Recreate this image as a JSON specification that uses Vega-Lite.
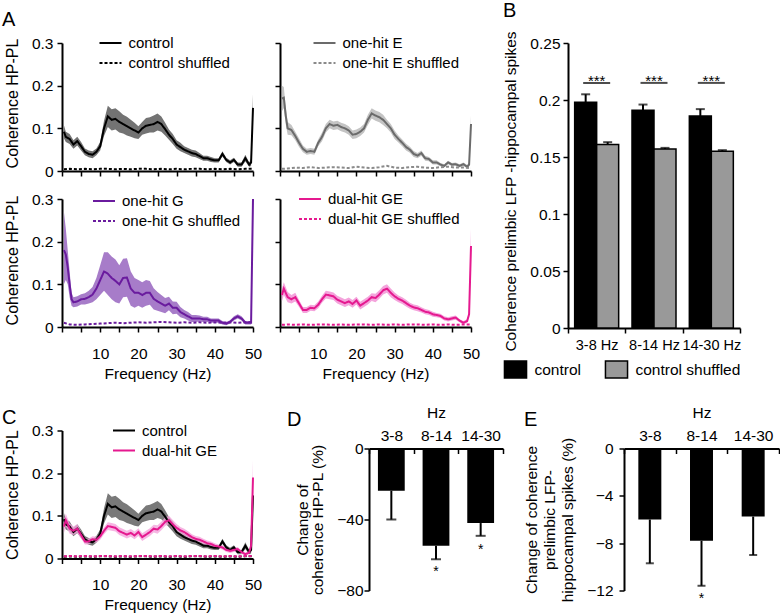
{
"$schema":"https://vega.github.io/schema/vega-lite/v6.json",
"padding":{"left":2,"top":0,"right":0,"bottom":0},
"background":"white",
"config":{
 "font":"Liberation Sans",
 "view":{"stroke":null},
 "axis":{"domainColor":"#000","domainWidth":2,"tickColor":"#000","tickWidth":1.5,"tickSize":5,"labelColor":"#000","labelFontSize":15.5,"titleFontSize":16,"titleFontWeight":"normal","titleColor":"#000","grid":false,"labelFlush":false,"labelOverlap":false},
 "legend":{"labelFontSize":15.5,"labelColor":"#000","padding":0},
 "title":{"fontSize":20,"fontWeight":"normal","anchor":"start","frame":"group","color":"#000","offset":0}
},
"datasets":{
"coh":[
{"g":"control","s":"control","f":0.5,"m":0.092,"lo":0.077,"hi":0.107},
{"g":"control","s":"control","f":1,"m":0.08,"lo":0.068,"hi":0.092},
{"g":"control","s":"control","f":2,"m":0.075,"lo":0.063,"hi":0.087},
{"g":"control","s":"control","f":3,"m":0.062,"lo":0.052,"hi":0.072},
{"g":"control","s":"control","f":4,"m":0.07,"lo":0.06,"hi":0.08},
{"g":"control","s":"control","f":5,"m":0.058,"lo":0.048,"hi":0.068},
{"g":"control","s":"control","f":6,"m":0.045,"lo":0.037,"hi":0.053},
{"g":"control","s":"control","f":7,"m":0.04,"lo":0.032,"hi":0.048},
{"g":"control","s":"control","f":8,"m":0.038,"lo":0.03,"hi":0.046},
{"g":"control","s":"control","f":9,"m":0.045,"lo":0.037,"hi":0.053},
{"g":"control","s":"control","f":10,"m":0.058,"lo":0.048,"hi":0.068},
{"g":"control","s":"control","f":11,"m":0.1,"lo":0.082,"hi":0.118},
{"g":"control","s":"control","f":12,"m":0.128,"lo":0.103,"hi":0.153},
{"g":"control","s":"control","f":13,"m":0.12,"lo":0.095,"hi":0.145},
{"g":"control","s":"control","f":14,"m":0.122,"lo":0.097,"hi":0.147},
{"g":"control","s":"control","f":15,"m":0.115,"lo":0.09,"hi":0.14},
{"g":"control","s":"control","f":16,"m":0.11,"lo":0.088,"hi":0.132},
{"g":"control","s":"control","f":17,"m":0.105,"lo":0.083,"hi":0.127},
{"g":"control","s":"control","f":18,"m":0.1,"lo":0.08,"hi":0.12},
{"g":"control","s":"control","f":19,"m":0.095,"lo":0.077,"hi":0.113},
{"g":"control","s":"control","f":20,"m":0.09,"lo":0.075,"hi":0.105},
{"g":"control","s":"control","f":21,"m":0.1,"lo":0.085,"hi":0.115},
{"g":"control","s":"control","f":22,"m":0.106,"lo":0.088,"hi":0.124},
{"g":"control","s":"control","f":23,"m":0.108,"lo":0.09,"hi":0.126},
{"g":"control","s":"control","f":24,"m":0.11,"lo":0.09,"hi":0.13},
{"g":"control","s":"control","f":25,"m":0.115,"lo":0.095,"hi":0.135},
{"g":"control","s":"control","f":26,"m":0.11,"lo":0.092,"hi":0.128},
{"g":"control","s":"control","f":27,"m":0.098,"lo":0.083,"hi":0.113},
{"g":"control","s":"control","f":28,"m":0.085,"lo":0.073,"hi":0.097},
{"g":"control","s":"control","f":29,"m":0.075,"lo":0.063,"hi":0.087},
{"g":"control","s":"control","f":30,"m":0.062,"lo":0.052,"hi":0.072},
{"g":"control","s":"control","f":31,"m":0.056,"lo":0.046,"hi":0.066},
{"g":"control","s":"control","f":32,"m":0.05,"lo":0.042,"hi":0.058},
{"g":"control","s":"control","f":33,"m":0.046,"lo":0.038,"hi":0.054},
{"g":"control","s":"control","f":34,"m":0.042,"lo":0.034,"hi":0.05},
{"g":"control","s":"control","f":35,"m":0.04,"lo":0.032,"hi":0.048},
{"g":"control","s":"control","f":36,"m":0.035,"lo":0.028,"hi":0.042},
{"g":"control","s":"control","f":37,"m":0.03,"lo":0.024,"hi":0.036},
{"g":"control","s":"control","f":38,"m":0.03,"lo":0.024,"hi":0.036},
{"g":"control","s":"control","f":39,"m":0.027,"lo":0.021,"hi":0.033},
{"g":"control","s":"control","f":40,"m":0.025,"lo":0.02,"hi":0.03},
{"g":"control","s":"control","f":41,"m":0.025,"lo":0.02,"hi":0.03},
{"g":"control","s":"control","f":42,"m":0.04,"lo":0.034,"hi":0.046},
{"g":"control","s":"control","f":43,"m":0.026,"lo":0.021,"hi":0.031},
{"g":"control","s":"control","f":44,"m":0.02,"lo":0.015,"hi":0.025},
{"g":"control","s":"control","f":45,"m":0.026,"lo":0.021,"hi":0.031},
{"g":"control","s":"control","f":46,"m":0.015,"lo":0.01,"hi":0.02},
{"g":"control","s":"control","f":47,"m":0.015,"lo":0.01,"hi":0.02},
{"g":"control","s":"control","f":48,"m":0.03,"lo":0.022,"hi":0.038},
{"g":"control","s":"control","f":49,"m":0.015,"lo":0.01,"hi":0.02},
{"g":"control","s":"control","f":49.5,"m":0.02,"lo":0.012,"hi":0.028},
{"g":"control","s":"control","f":50,"m":0.148,"lo":0.12,"hi":0.18},
{"g":"control","s":"control shuffled","f":0.5,"m":0.004},
{"g":"control","s":"control shuffled","f":2,"m":0.005},
{"g":"control","s":"control shuffled","f":4,"m":0.004},
{"g":"control","s":"control shuffled","f":6,"m":0.005},
{"g":"control","s":"control shuffled","f":8,"m":0.004},
{"g":"control","s":"control shuffled","f":10,"m":0.005},
{"g":"control","s":"control shuffled","f":12,"m":0.005},
{"g":"control","s":"control shuffled","f":14,"m":0.004},
{"g":"control","s":"control shuffled","f":16,"m":0.005},
{"g":"control","s":"control shuffled","f":18,"m":0.004},
{"g":"control","s":"control shuffled","f":20,"m":0.005},
{"g":"control","s":"control shuffled","f":22,"m":0.005},
{"g":"control","s":"control shuffled","f":24,"m":0.004},
{"g":"control","s":"control shuffled","f":26,"m":0.005},
{"g":"control","s":"control shuffled","f":28,"m":0.004},
{"g":"control","s":"control shuffled","f":30,"m":0.005},
{"g":"control","s":"control shuffled","f":32,"m":0.004},
{"g":"control","s":"control shuffled","f":34,"m":0.005},
{"g":"control","s":"control shuffled","f":36,"m":0.005},
{"g":"control","s":"control shuffled","f":38,"m":0.004},
{"g":"control","s":"control shuffled","f":40,"m":0.005},
{"g":"control","s":"control shuffled","f":42,"m":0.004},
{"g":"control","s":"control shuffled","f":44,"m":0.005},
{"g":"control","s":"control shuffled","f":46,"m":0.004},
{"g":"control","s":"control shuffled","f":48,"m":0.005},
{"g":"control","s":"control shuffled","f":50,"m":0.005},
{"g":"one-hit E","s":"one-hit E","f":0.5,"m":0.17,"lo":0.14,"hi":0.2},
{"g":"one-hit E","s":"one-hit E","f":1,"m":0.172,"lo":0.147,"hi":0.197},
{"g":"one-hit E","s":"one-hit E","f":1.5,"m":0.13,"lo":0.11,"hi":0.15},
{"g":"one-hit E","s":"one-hit E","f":2,"m":0.1,"lo":0.085,"hi":0.115},
{"g":"one-hit E","s":"one-hit E","f":3,"m":0.096,"lo":0.084,"hi":0.108},
{"g":"one-hit E","s":"one-hit E","f":4,"m":0.082,"lo":0.072,"hi":0.092},
{"g":"one-hit E","s":"one-hit E","f":5,"m":0.066,"lo":0.056,"hi":0.076},
{"g":"one-hit E","s":"one-hit E","f":6,"m":0.052,"lo":0.044,"hi":0.06},
{"g":"one-hit E","s":"one-hit E","f":7,"m":0.045,"lo":0.038,"hi":0.052},
{"g":"one-hit E","s":"one-hit E","f":8,"m":0.047,"lo":0.04,"hi":0.054},
{"g":"one-hit E","s":"one-hit E","f":9,"m":0.045,"lo":0.038,"hi":0.052},
{"g":"one-hit E","s":"one-hit E","f":10,"m":0.066,"lo":0.058,"hi":0.074},
{"g":"one-hit E","s":"one-hit E","f":11,"m":0.08,"lo":0.07,"hi":0.09},
{"g":"one-hit E","s":"one-hit E","f":12,"m":0.1,"lo":0.09,"hi":0.11},
{"g":"one-hit E","s":"one-hit E","f":13,"m":0.11,"lo":0.1,"hi":0.12},
{"g":"one-hit E","s":"one-hit E","f":14,"m":0.106,"lo":0.096,"hi":0.116},
{"g":"one-hit E","s":"one-hit E","f":15,"m":0.108,"lo":0.098,"hi":0.118},
{"g":"one-hit E","s":"one-hit E","f":16,"m":0.103,"lo":0.093,"hi":0.113},
{"g":"one-hit E","s":"one-hit E","f":17,"m":0.1,"lo":0.09,"hi":0.11},
{"g":"one-hit E","s":"one-hit E","f":18,"m":0.095,"lo":0.085,"hi":0.105},
{"g":"one-hit E","s":"one-hit E","f":19,"m":0.085,"lo":0.075,"hi":0.095},
{"g":"one-hit E","s":"one-hit E","f":20,"m":0.087,"lo":0.077,"hi":0.097},
{"g":"one-hit E","s":"one-hit E","f":21,"m":0.092,"lo":0.082,"hi":0.102},
{"g":"one-hit E","s":"one-hit E","f":22,"m":0.1,"lo":0.09,"hi":0.11},
{"g":"one-hit E","s":"one-hit E","f":23,"m":0.12,"lo":0.108,"hi":0.132},
{"g":"one-hit E","s":"one-hit E","f":24,"m":0.135,"lo":0.123,"hi":0.147},
{"g":"one-hit E","s":"one-hit E","f":25,"m":0.13,"lo":0.118,"hi":0.142},
{"g":"one-hit E","s":"one-hit E","f":26,"m":0.126,"lo":0.114,"hi":0.138},
{"g":"one-hit E","s":"one-hit E","f":27,"m":0.12,"lo":0.108,"hi":0.132},
{"g":"one-hit E","s":"one-hit E","f":28,"m":0.11,"lo":0.1,"hi":0.12},
{"g":"one-hit E","s":"one-hit E","f":29,"m":0.1,"lo":0.09,"hi":0.11},
{"g":"one-hit E","s":"one-hit E","f":30,"m":0.085,"lo":0.075,"hi":0.095},
{"g":"one-hit E","s":"one-hit E","f":31,"m":0.075,"lo":0.067,"hi":0.083},
{"g":"one-hit E","s":"one-hit E","f":32,"m":0.066,"lo":0.058,"hi":0.074},
{"g":"one-hit E","s":"one-hit E","f":33,"m":0.056,"lo":0.048,"hi":0.064},
{"g":"one-hit E","s":"one-hit E","f":34,"m":0.05,"lo":0.043,"hi":0.057},
{"g":"one-hit E","s":"one-hit E","f":35,"m":0.04,"lo":0.033,"hi":0.047},
{"g":"one-hit E","s":"one-hit E","f":36,"m":0.036,"lo":0.03,"hi":0.042},
{"g":"one-hit E","s":"one-hit E","f":37,"m":0.042,"lo":0.036,"hi":0.048},
{"g":"one-hit E","s":"one-hit E","f":38,"m":0.03,"lo":0.024,"hi":0.036},
{"g":"one-hit E","s":"one-hit E","f":39,"m":0.028,"lo":0.023,"hi":0.033},
{"g":"one-hit E","s":"one-hit E","f":40,"m":0.02,"lo":0.015,"hi":0.025},
{"g":"one-hit E","s":"one-hit E","f":41,"m":0.02,"lo":0.015,"hi":0.025},
{"g":"one-hit E","s":"one-hit E","f":42,"m":0.015,"lo":0.011,"hi":0.019},
{"g":"one-hit E","s":"one-hit E","f":43,"m":0.012,"lo":0.008,"hi":0.016},
{"g":"one-hit E","s":"one-hit E","f":44,"m":0.02,"lo":0.016,"hi":0.024},
{"g":"one-hit E","s":"one-hit E","f":45,"m":0.015,"lo":0.011,"hi":0.019},
{"g":"one-hit E","s":"one-hit E","f":46,"m":0.016,"lo":0.012,"hi":0.02},
{"g":"one-hit E","s":"one-hit E","f":47,"m":0.012,"lo":0.008,"hi":0.016},
{"g":"one-hit E","s":"one-hit E","f":48,"m":0.016,"lo":0.012,"hi":0.02},
{"g":"one-hit E","s":"one-hit E","f":49,"m":0.01,"lo":0.006,"hi":0.014},
{"g":"one-hit E","s":"one-hit E","f":49.5,"m":0.015,"lo":0.01,"hi":0.02},
{"g":"one-hit E","s":"one-hit E","f":50,"m":0.11,"lo":0.09,"hi":0.13},
{"g":"one-hit E","s":"one-hit E shuffled","f":0.5,"m":0.005},
{"g":"one-hit E","s":"one-hit E shuffled","f":2,"m":0.006},
{"g":"one-hit E","s":"one-hit E shuffled","f":4,"m":0.008},
{"g":"one-hit E","s":"one-hit E shuffled","f":6,"m":0.007},
{"g":"one-hit E","s":"one-hit E shuffled","f":8,"m":0.009},
{"g":"one-hit E","s":"one-hit E shuffled","f":10,"m":0.007},
{"g":"one-hit E","s":"one-hit E shuffled","f":12,"m":0.008},
{"g":"one-hit E","s":"one-hit E shuffled","f":14,"m":0.009},
{"g":"one-hit E","s":"one-hit E shuffled","f":16,"m":0.008},
{"g":"one-hit E","s":"one-hit E shuffled","f":18,"m":0.007},
{"g":"one-hit E","s":"one-hit E shuffled","f":20,"m":0.01},
{"g":"one-hit E","s":"one-hit E shuffled","f":22,"m":0.008},
{"g":"one-hit E","s":"one-hit E shuffled","f":24,"m":0.007},
{"g":"one-hit E","s":"one-hit E shuffled","f":26,"m":0.009},
{"g":"one-hit E","s":"one-hit E shuffled","f":28,"m":0.012},
{"g":"one-hit E","s":"one-hit E shuffled","f":30,"m":0.008},
{"g":"one-hit E","s":"one-hit E shuffled","f":32,"m":0.007},
{"g":"one-hit E","s":"one-hit E shuffled","f":34,"m":0.009},
{"g":"one-hit E","s":"one-hit E shuffled","f":36,"m":0.01},
{"g":"one-hit E","s":"one-hit E shuffled","f":38,"m":0.008},
{"g":"one-hit E","s":"one-hit E shuffled","f":40,"m":0.007},
{"g":"one-hit E","s":"one-hit E shuffled","f":42,"m":0.009},
{"g":"one-hit E","s":"one-hit E shuffled","f":44,"m":0.01},
{"g":"one-hit E","s":"one-hit E shuffled","f":46,"m":0.008},
{"g":"one-hit E","s":"one-hit E shuffled","f":48,"m":0.008},
{"g":"one-hit E","s":"one-hit E shuffled","f":50,"m":0.007},
{"g":"one-hit G","s":"one-hit G","f":0.5,"m":0.18,"lo":0.1,"hi":0.27},
{"g":"one-hit G","s":"one-hit G","f":1,"m":0.17,"lo":0.11,"hi":0.23},
{"g":"one-hit G","s":"one-hit G","f":1.5,"m":0.14,"lo":0.1,"hi":0.18},
{"g":"one-hit G","s":"one-hit G","f":2,"m":0.1,"lo":0.07,"hi":0.13},
{"g":"one-hit G","s":"one-hit G","f":2.5,"m":0.065,"lo":0.05,"hi":0.08},
{"g":"one-hit G","s":"one-hit G","f":3,"m":0.058,"lo":0.046,"hi":0.07},
{"g":"one-hit G","s":"one-hit G","f":4,"m":0.06,"lo":0.048,"hi":0.072},
{"g":"one-hit G","s":"one-hit G","f":5,"m":0.065,"lo":0.053,"hi":0.077},
{"g":"one-hit G","s":"one-hit G","f":6,"m":0.066,"lo":0.053,"hi":0.079},
{"g":"one-hit G","s":"one-hit G","f":7,"m":0.07,"lo":0.055,"hi":0.085},
{"g":"one-hit G","s":"one-hit G","f":8,"m":0.076,"lo":0.058,"hi":0.094},
{"g":"one-hit G","s":"one-hit G","f":9,"m":0.09,"lo":0.065,"hi":0.115},
{"g":"one-hit G","s":"one-hit G","f":10,"m":0.11,"lo":0.075,"hi":0.145},
{"g":"one-hit G","s":"one-hit G","f":11,"m":0.13,"lo":0.085,"hi":0.175},
{"g":"one-hit G","s":"one-hit G","f":12,"m":0.125,"lo":0.075,"hi":0.175},
{"g":"one-hit G","s":"one-hit G","f":13,"m":0.115,"lo":0.065,"hi":0.165},
{"g":"one-hit G","s":"one-hit G","f":14,"m":0.108,"lo":0.058,"hi":0.158},
{"g":"one-hit G","s":"one-hit G","f":15,"m":0.1,"lo":0.055,"hi":0.145},
{"g":"one-hit G","s":"one-hit G","f":16,"m":0.115,"lo":0.07,"hi":0.16},
{"g":"one-hit G","s":"one-hit G","f":17,"m":0.116,"lo":0.071,"hi":0.161},
{"g":"one-hit G","s":"one-hit G","f":18,"m":0.09,"lo":0.05,"hi":0.13},
{"g":"one-hit G","s":"one-hit G","f":19,"m":0.08,"lo":0.045,"hi":0.115},
{"g":"one-hit G","s":"one-hit G","f":20,"m":0.08,"lo":0.05,"hi":0.11},
{"g":"one-hit G","s":"one-hit G","f":21,"m":0.075,"lo":0.045,"hi":0.105},
{"g":"one-hit G","s":"one-hit G","f":22,"m":0.08,"lo":0.05,"hi":0.11},
{"g":"one-hit G","s":"one-hit G","f":23,"m":0.08,"lo":0.052,"hi":0.108},
{"g":"one-hit G","s":"one-hit G","f":24,"m":0.066,"lo":0.041,"hi":0.091},
{"g":"one-hit G","s":"one-hit G","f":25,"m":0.06,"lo":0.038,"hi":0.082},
{"g":"one-hit G","s":"one-hit G","f":26,"m":0.055,"lo":0.035,"hi":0.075},
{"g":"one-hit G","s":"one-hit G","f":27,"m":0.05,"lo":0.032,"hi":0.068},
{"g":"one-hit G","s":"one-hit G","f":28,"m":0.055,"lo":0.039,"hi":0.071},
{"g":"one-hit G","s":"one-hit G","f":29,"m":0.045,"lo":0.03,"hi":0.06},
{"g":"one-hit G","s":"one-hit G","f":30,"m":0.045,"lo":0.031,"hi":0.059},
{"g":"one-hit G","s":"one-hit G","f":31,"m":0.035,"lo":0.023,"hi":0.047},
{"g":"one-hit G","s":"one-hit G","f":32,"m":0.03,"lo":0.02,"hi":0.04},
{"g":"one-hit G","s":"one-hit G","f":33,"m":0.025,"lo":0.015,"hi":0.035},
{"g":"one-hit G","s":"one-hit G","f":34,"m":0.02,"lo":0.012,"hi":0.028},
{"g":"one-hit G","s":"one-hit G","f":35,"m":0.02,"lo":0.012,"hi":0.028},
{"g":"one-hit G","s":"one-hit G","f":36,"m":0.02,"lo":0.013,"hi":0.027},
{"g":"one-hit G","s":"one-hit G","f":37,"m":0.018,"lo":0.012,"hi":0.024},
{"g":"one-hit G","s":"one-hit G","f":38,"m":0.018,"lo":0.012,"hi":0.024},
{"g":"one-hit G","s":"one-hit G","f":39,"m":0.015,"lo":0.01,"hi":0.02},
{"g":"one-hit G","s":"one-hit G","f":40,"m":0.015,"lo":0.01,"hi":0.02},
{"g":"one-hit G","s":"one-hit G","f":41,"m":0.015,"lo":0.01,"hi":0.02},
{"g":"one-hit G","s":"one-hit G","f":42,"m":0.01,"lo":0.006,"hi":0.014},
{"g":"one-hit G","s":"one-hit G","f":43,"m":0.008,"lo":0.004,"hi":0.012},
{"g":"one-hit G","s":"one-hit G","f":44,"m":0.012,"lo":0.008,"hi":0.016},
{"g":"one-hit G","s":"one-hit G","f":45,"m":0.02,"lo":0.015,"hi":0.025},
{"g":"one-hit G","s":"one-hit G","f":46,"m":0.025,"lo":0.02,"hi":0.03},
{"g":"one-hit G","s":"one-hit G","f":47,"m":0.02,"lo":0.015,"hi":0.025},
{"g":"one-hit G","s":"one-hit G","f":48,"m":0.01,"lo":0.006,"hi":0.014},
{"g":"one-hit G","s":"one-hit G","f":49,"m":0.01,"lo":0.006,"hi":0.014},
{"g":"one-hit G","s":"one-hit G","f":49.5,"m":0.01,"lo":0.006,"hi":0.014},
{"g":"one-hit G","s":"one-hit G","f":50,"m":0.3,"lo":0.29,"hi":0.3},
{"g":"one-hit G","s":"one-hit G shuffled","f":0.5,"m":0.01},
{"g":"one-hit G","s":"one-hit G shuffled","f":2,"m":0.006},
{"g":"one-hit G","s":"one-hit G shuffled","f":4,"m":0.005},
{"g":"one-hit G","s":"one-hit G shuffled","f":6,"m":0.006},
{"g":"one-hit G","s":"one-hit G shuffled","f":8,"m":0.007},
{"g":"one-hit G","s":"one-hit G shuffled","f":10,"m":0.008},
{"g":"one-hit G","s":"one-hit G shuffled","f":12,"m":0.009},
{"g":"one-hit G","s":"one-hit G shuffled","f":14,"m":0.01},
{"g":"one-hit G","s":"one-hit G shuffled","f":16,"m":0.009},
{"g":"one-hit G","s":"one-hit G shuffled","f":18,"m":0.01},
{"g":"one-hit G","s":"one-hit G shuffled","f":20,"m":0.011},
{"g":"one-hit G","s":"one-hit G shuffled","f":22,"m":0.01},
{"g":"one-hit G","s":"one-hit G shuffled","f":24,"m":0.011},
{"g":"one-hit G","s":"one-hit G shuffled","f":26,"m":0.012},
{"g":"one-hit G","s":"one-hit G shuffled","f":28,"m":0.011},
{"g":"one-hit G","s":"one-hit G shuffled","f":30,"m":0.01},
{"g":"one-hit G","s":"one-hit G shuffled","f":32,"m":0.011},
{"g":"one-hit G","s":"one-hit G shuffled","f":34,"m":0.01},
{"g":"one-hit G","s":"one-hit G shuffled","f":36,"m":0.011},
{"g":"one-hit G","s":"one-hit G shuffled","f":38,"m":0.01},
{"g":"one-hit G","s":"one-hit G shuffled","f":40,"m":0.011},
{"g":"one-hit G","s":"one-hit G shuffled","f":42,"m":0.01},
{"g":"one-hit G","s":"one-hit G shuffled","f":44,"m":0.011},
{"g":"one-hit G","s":"one-hit G shuffled","f":46,"m":0.01},
{"g":"one-hit G","s":"one-hit G shuffled","f":48,"m":0.011},
{"g":"one-hit G","s":"one-hit G shuffled","f":50,"m":0.012},
{"g":"dual-hit GE","s":"dual-hit GE","f":0.5,"m":0.075,"lo":0.06,"hi":0.09},
{"g":"dual-hit GE","s":"dual-hit GE","f":1,"m":0.09,"lo":0.075,"hi":0.105},
{"g":"dual-hit GE","s":"dual-hit GE","f":2,"m":0.07,"lo":0.058,"hi":0.082},
{"g":"dual-hit GE","s":"dual-hit GE","f":3,"m":0.065,"lo":0.055,"hi":0.075},
{"g":"dual-hit GE","s":"dual-hit GE","f":4,"m":0.07,"lo":0.06,"hi":0.08},
{"g":"dual-hit GE","s":"dual-hit GE","f":5,"m":0.055,"lo":0.047,"hi":0.063},
{"g":"dual-hit GE","s":"dual-hit GE","f":6,"m":0.04,"lo":0.033,"hi":0.047},
{"g":"dual-hit GE","s":"dual-hit GE","f":7,"m":0.04,"lo":0.033,"hi":0.047},
{"g":"dual-hit GE","s":"dual-hit GE","f":8,"m":0.045,"lo":0.038,"hi":0.052},
{"g":"dual-hit GE","s":"dual-hit GE","f":9,"m":0.044,"lo":0.037,"hi":0.051},
{"g":"dual-hit GE","s":"dual-hit GE","f":10,"m":0.052,"lo":0.044,"hi":0.06},
{"g":"dual-hit GE","s":"dual-hit GE","f":11,"m":0.065,"lo":0.057,"hi":0.073},
{"g":"dual-hit GE","s":"dual-hit GE","f":12,"m":0.076,"lo":0.067,"hi":0.085},
{"g":"dual-hit GE","s":"dual-hit GE","f":13,"m":0.074,"lo":0.065,"hi":0.083},
{"g":"dual-hit GE","s":"dual-hit GE","f":14,"m":0.072,"lo":0.063,"hi":0.081},
{"g":"dual-hit GE","s":"dual-hit GE","f":15,"m":0.064,"lo":0.055,"hi":0.073},
{"g":"dual-hit GE","s":"dual-hit GE","f":16,"m":0.06,"lo":0.051,"hi":0.069},
{"g":"dual-hit GE","s":"dual-hit GE","f":17,"m":0.056,"lo":0.047,"hi":0.065},
{"g":"dual-hit GE","s":"dual-hit GE","f":18,"m":0.06,"lo":0.051,"hi":0.069},
{"g":"dual-hit GE","s":"dual-hit GE","f":19,"m":0.054,"lo":0.045,"hi":0.063},
{"g":"dual-hit GE","s":"dual-hit GE","f":20,"m":0.062,"lo":0.053,"hi":0.071},
{"g":"dual-hit GE","s":"dual-hit GE","f":21,"m":0.05,"lo":0.041,"hi":0.059},
{"g":"dual-hit GE","s":"dual-hit GE","f":22,"m":0.056,"lo":0.047,"hi":0.065},
{"g":"dual-hit GE","s":"dual-hit GE","f":23,"m":0.062,"lo":0.053,"hi":0.071},
{"g":"dual-hit GE","s":"dual-hit GE","f":24,"m":0.07,"lo":0.061,"hi":0.079},
{"g":"dual-hit GE","s":"dual-hit GE","f":25,"m":0.068,"lo":0.058,"hi":0.078},
{"g":"dual-hit GE","s":"dual-hit GE","f":26,"m":0.076,"lo":0.066,"hi":0.086},
{"g":"dual-hit GE","s":"dual-hit GE","f":27,"m":0.086,"lo":0.076,"hi":0.096},
{"g":"dual-hit GE","s":"dual-hit GE","f":28,"m":0.09,"lo":0.08,"hi":0.1},
{"g":"dual-hit GE","s":"dual-hit GE","f":29,"m":0.08,"lo":0.07,"hi":0.09},
{"g":"dual-hit GE","s":"dual-hit GE","f":30,"m":0.072,"lo":0.063,"hi":0.081},
{"g":"dual-hit GE","s":"dual-hit GE","f":31,"m":0.066,"lo":0.058,"hi":0.074},
{"g":"dual-hit GE","s":"dual-hit GE","f":32,"m":0.062,"lo":0.054,"hi":0.07},
{"g":"dual-hit GE","s":"dual-hit GE","f":33,"m":0.056,"lo":0.048,"hi":0.064},
{"g":"dual-hit GE","s":"dual-hit GE","f":34,"m":0.05,"lo":0.043,"hi":0.057},
{"g":"dual-hit GE","s":"dual-hit GE","f":35,"m":0.046,"lo":0.039,"hi":0.053},
{"g":"dual-hit GE","s":"dual-hit GE","f":36,"m":0.044,"lo":0.037,"hi":0.051},
{"g":"dual-hit GE","s":"dual-hit GE","f":37,"m":0.04,"lo":0.034,"hi":0.046},
{"g":"dual-hit GE","s":"dual-hit GE","f":38,"m":0.036,"lo":0.03,"hi":0.042},
{"g":"dual-hit GE","s":"dual-hit GE","f":39,"m":0.034,"lo":0.028,"hi":0.04},
{"g":"dual-hit GE","s":"dual-hit GE","f":40,"m":0.03,"lo":0.024,"hi":0.036},
{"g":"dual-hit GE","s":"dual-hit GE","f":41,"m":0.028,"lo":0.023,"hi":0.033},
{"g":"dual-hit GE","s":"dual-hit GE","f":42,"m":0.026,"lo":0.021,"hi":0.031},
{"g":"dual-hit GE","s":"dual-hit GE","f":43,"m":0.02,"lo":0.015,"hi":0.025},
{"g":"dual-hit GE","s":"dual-hit GE","f":44,"m":0.018,"lo":0.013,"hi":0.023},
{"g":"dual-hit GE","s":"dual-hit GE","f":45,"m":0.02,"lo":0.015,"hi":0.025},
{"g":"dual-hit GE","s":"dual-hit GE","f":46,"m":0.022,"lo":0.017,"hi":0.027},
{"g":"dual-hit GE","s":"dual-hit GE","f":47,"m":0.015,"lo":0.011,"hi":0.019},
{"g":"dual-hit GE","s":"dual-hit GE","f":48,"m":0.01,"lo":0.006,"hi":0.014},
{"g":"dual-hit GE","s":"dual-hit GE","f":49,"m":0.014,"lo":0.01,"hi":0.018},
{"g":"dual-hit GE","s":"dual-hit GE","f":49.5,"m":0.03,"lo":0.024,"hi":0.036},
{"g":"dual-hit GE","s":"dual-hit GE","f":50,"m":0.19,"lo":0.16,"hi":0.23},
{"g":"dual-hit GE","s":"dual-hit GE shuffled","f":0.5,"m":0.005},
{"g":"dual-hit GE","s":"dual-hit GE shuffled","f":2,"m":0.006},
{"g":"dual-hit GE","s":"dual-hit GE shuffled","f":4,"m":0.005},
{"g":"dual-hit GE","s":"dual-hit GE shuffled","f":6,"m":0.006},
{"g":"dual-hit GE","s":"dual-hit GE shuffled","f":8,"m":0.005},
{"g":"dual-hit GE","s":"dual-hit GE shuffled","f":10,"m":0.006},
{"g":"dual-hit GE","s":"dual-hit GE shuffled","f":12,"m":0.006},
{"g":"dual-hit GE","s":"dual-hit GE shuffled","f":14,"m":0.005},
{"g":"dual-hit GE","s":"dual-hit GE shuffled","f":16,"m":0.006},
{"g":"dual-hit GE","s":"dual-hit GE shuffled","f":18,"m":0.005},
{"g":"dual-hit GE","s":"dual-hit GE shuffled","f":20,"m":0.006},
{"g":"dual-hit GE","s":"dual-hit GE shuffled","f":22,"m":0.006},
{"g":"dual-hit GE","s":"dual-hit GE shuffled","f":24,"m":0.005},
{"g":"dual-hit GE","s":"dual-hit GE shuffled","f":26,"m":0.006},
{"g":"dual-hit GE","s":"dual-hit GE shuffled","f":28,"m":0.005},
{"g":"dual-hit GE","s":"dual-hit GE shuffled","f":30,"m":0.006},
{"g":"dual-hit GE","s":"dual-hit GE shuffled","f":32,"m":0.005},
{"g":"dual-hit GE","s":"dual-hit GE shuffled","f":34,"m":0.006},
{"g":"dual-hit GE","s":"dual-hit GE shuffled","f":36,"m":0.006},
{"g":"dual-hit GE","s":"dual-hit GE shuffled","f":38,"m":0.005},
{"g":"dual-hit GE","s":"dual-hit GE shuffled","f":40,"m":0.006},
{"g":"dual-hit GE","s":"dual-hit GE shuffled","f":42,"m":0.005},
{"g":"dual-hit GE","s":"dual-hit GE shuffled","f":44,"m":0.006},
{"g":"dual-hit GE","s":"dual-hit GE shuffled","f":46,"m":0.005},
{"g":"dual-hit GE","s":"dual-hit GE shuffled","f":48,"m":0.006},
{"g":"dual-hit GE","s":"dual-hit GE shuffled","f":50,"m":0.006}
],
"bars":[
{"band":"3-8 Hz","grp":"control","m":0.198,"hi":0.205},
{"band":"3-8 Hz","grp":"control shuffled","m":0.161,"hi":0.163},
{"band":"8-14 Hz","grp":"control","m":0.191,"hi":0.196},
{"band":"8-14 Hz","grp":"control shuffled","m":0.157,"hi":0.158},
{"band":"14-30 Hz","grp":"control","m":0.186,"hi":0.192},
{"band":"14-30 Hz","grp":"control shuffled","m":0.155,"hi":0.156}
],
"sig":[
{"band":"3-8 Hz","y":0.215,"ty":0.2228},
{"band":"8-14 Hz","y":0.215,"ty":0.2228},
{"band":"14-30 Hz","y":0.215,"ty":0.2228}
],
"pct":[
{"panel":"D","band":"3-8","m":-23.8,"lo":-40},
{"panel":"D","band":"8-14","m":-54.8,"lo":-62.4,"sy":-65.5},
{"panel":"D","band":"14-30","m":-42,"lo":-49.2,"sy":-53},
{"panel":"E","band":"3-8","m":-6,"lo":-9.7},
{"panel":"E","band":"8-14","m":-7.8,"lo":-11.6,"sy":-12.1},
{"panel":"E","band":"14-30","m":-5.75,"lo":-9}
]
},
"vconcat":[
 {"hconcat":[
  {"concat":[
   {"width":191,"height":128,
    "title":{"text":"A","dx":-60,"dy":3},
    "data":{"name":"coh"},
    "transform":[{"filter":"datum.g==='control'"}],
    "encoding":{
     "x":{"field":"f","type":"quantitative","scale":{"domain":[0,50],"nice":false,"zero":false},"axis":{"values":[0,5,10,15,20,25,30,35,40,45,50],"labels":false,"title":null}},
     "y":{"field":"m","type":"quantitative","title":"Coherence HP-PL","scale":{"domain":[0,0.3],"nice":false},"axis":{"values":[0,0.1,0.2,0.3],"format":"~g","labelPadding":4,"title":"Coherence HP-PL","titlePadding":11,"titleY":60}}
    },
    "layer":[
     {"transform":[{"filter":"datum.s===datum.g"}],"mark":{"type":"area","color":"#737373"},"encoding":{"y":{"field":"lo","type":"quantitative","title":"Coherence HP-PL"},"y2":{"field":"hi"}}},
     {"mark":{"type":"line","strokeWidth":2},"encoding":{
      "color":{"field":"s","type":"nominal","scale":{"domain":["control","control shuffled"],"range":["#000000","#000000"]},"legend":{"orient":"none","legendX":36.5,"legendY":-12,"title":null,"symbolType":"stroke","symbolSize":484,"symbolStrokeWidth":2,"rowPadding":-4,"labelOffset":6,"labelFontSize":15}},
      "strokeDash":{"field":"s","type":"nominal","scale":{"domain":["control","control shuffled"],"range":[[1,0],[3,2]]},"legend":{"orient":"none","legendX":36.5,"legendY":-12,"title":null,"symbolType":"stroke","symbolSize":484,"symbolStrokeWidth":2,"rowPadding":-4,"labelOffset":6,"labelFontSize":15}}}}
    ]},
   {"width":191,"height":128,
    "data":{"name":"coh"},
    "transform":[{"filter":"datum.g==='one-hit E'"}],
    "encoding":{
     "x":{"field":"f","type":"quantitative","scale":{"domain":[0,50],"nice":false,"zero":false},"axis":{"values":[0,5,10,15,20,25,30,35,40,45,50],"labels":false,"title":null}},
     "y":{"field":"m","type":"quantitative","title":null,"scale":{"domain":[0,0.3],"nice":false},"axis":{"values":[0,0.1,0.2,0.3],"labels":false,"title":null}}
    },
    "layer":[
     {"transform":[{"filter":"datum.s===datum.g"}],"mark":{"type":"area","color":"#c4c4c4"},"encoding":{"y":{"field":"lo","type":"quantitative","title":null},"y2":{"field":"hi"}}},
     {"mark":{"type":"line","strokeWidth":2},"encoding":{
      "color":{"field":"s","type":"nominal","scale":{"domain":["one-hit E","one-hit E shuffled"],"range":["#6b6b6b","#8a8a8a"]},"legend":{"orient":"none","legendX":32.5,"legendY":-12,"title":null,"symbolType":"stroke","symbolSize":484,"symbolStrokeWidth":2,"rowPadding":-4,"labelOffset":6,"labelFontSize":15}},
      "strokeDash":{"field":"s","type":"nominal","scale":{"domain":["one-hit E","one-hit E shuffled"],"range":[[1,0],[3,2]]},"legend":{"orient":"none","legendX":32.5,"legendY":-12,"title":null,"symbolType":"stroke","symbolSize":484,"symbolStrokeWidth":2,"rowPadding":-4,"labelOffset":6,"labelFontSize":15}}}}
    ]},
   {"width":191,"height":128,
    "data":{"name":"coh"},
    "transform":[{"filter":"datum.g==='one-hit G'"}],
    "encoding":{
     "x":{"field":"f","type":"quantitative","title":"Frequency (Hz)","scale":{"domain":[0,50],"nice":false,"zero":false},"axis":{"values":[0,5,10,15,20,25,30,35,40,45,50],"labelExpr":"datum.value % 10 === 0 && datum.value > 0 ? datum.label : ''","labelPadding":14,"title":"Frequency (Hz)","titleFontSize":15.5,"titlePadding":4.5}},
     "y":{"field":"m","type":"quantitative","title":"Coherence HP-PL","scale":{"domain":[0,0.3],"nice":false},"axis":{"values":[0,0.1,0.2,0.3],"format":"~g","labelPadding":4,"title":"Coherence HP-PL","titlePadding":11,"titleY":61}}
    },
    "layer":[
     {"transform":[{"filter":"datum.s===datum.g"}],"mark":{"type":"area","color":"#a77cc9"},"encoding":{"y":{"field":"lo","type":"quantitative","title":"Coherence HP-PL"},"y2":{"field":"hi"}}},
     {"mark":{"type":"line","strokeWidth":2},"encoding":{
      "color":{"field":"s","type":"nominal","scale":{"domain":["one-hit G","one-hit G shuffled"],"range":["#6a1b9e","#6a1b9e"]},"legend":{"orient":"none","legendX":30,"legendY":-10,"title":null,"symbolType":"stroke","symbolSize":484,"symbolStrokeWidth":2,"rowPadding":-4,"labelOffset":6,"labelFontSize":15}},
      "strokeDash":{"field":"s","type":"nominal","scale":{"domain":["one-hit G","one-hit G shuffled"],"range":[[1,0],[3,2]]},"legend":{"orient":"none","legendX":30,"legendY":-10,"title":null,"symbolType":"stroke","symbolSize":484,"symbolStrokeWidth":2,"rowPadding":-4,"labelOffset":6,"labelFontSize":15}}}}
    ]},
   {"width":191,"height":128,
    "data":{"name":"coh"},
    "transform":[{"filter":"datum.g==='dual-hit GE'"}],
    "encoding":{
     "x":{"field":"f","type":"quantitative","title":"Frequency (Hz)","scale":{"domain":[0,50],"nice":false,"zero":false},"axis":{"values":[0,5,10,15,20,25,30,35,40,45,50],"labelExpr":"datum.value % 10 === 0 && datum.value > 0 ? datum.label : ''","labelPadding":14,"title":"Frequency (Hz)","titleFontSize":15.5,"titlePadding":4.5}},
     "y":{"field":"m","type":"quantitative","title":null,"scale":{"domain":[0,0.3],"nice":false},"axis":{"values":[0,0.1,0.2,0.3],"labels":false,"title":null}}
    },
    "layer":[
     {"transform":[{"filter":"datum.s===datum.g"}],"mark":{"type":"area","color":"#f4a4dc"},"encoding":{"y":{"field":"lo","type":"quantitative","title":null},"y2":{"field":"hi"}}},
     {"mark":{"type":"line","strokeWidth":2},"encoding":{
      "color":{"field":"s","type":"nominal","scale":{"domain":["dual-hit GE","dual-hit GE shuffled"],"range":["#e5198f","#e5198f"]},"legend":{"orient":"none","legendX":18,"legendY":-12,"title":null,"symbolType":"stroke","symbolSize":484,"symbolStrokeWidth":2,"rowPadding":-4,"labelOffset":6,"labelFontSize":15}},
      "strokeDash":{"field":"s","type":"nominal","scale":{"domain":["dual-hit GE","dual-hit GE shuffled"],"range":[[1,0],[3,2]]},"legend":{"orient":"none","legendX":18,"legendY":-12,"title":null,"symbolType":"stroke","symbolSize":484,"symbolStrokeWidth":2,"rowPadding":-4,"labelOffset":6,"labelFontSize":15}}}}
    ]}
  ],
  "columns":2,"bounds":"flush","spacing":{"row":28,"column":27},
  "resolve":{"scale":{"color":"independent","strokeDash":"independent"}}},
  {"width":172,"height":285,
   "title":{"text":"B","dx":-65,"dy":-6},
   "data":{"name":"bars"},
   "encoding":{"x":{"field":"band","type":"nominal","sort":["3-8 Hz","8-14 Hz","14-30 Hz"],"title":null,"scale":{"paddingInner":0,"paddingOuter":0},"axis":{"title":null,"labelAngle":0,"tickBand":"extent","labelPadding":5,"labelFontSize":14.5}}},
   "layer":[
    {"mark":{"type":"bar","stroke":"#000","strokeWidth":1.5},
     "encoding":{
      "xOffset":{"field":"grp","type":"nominal","sort":["control","control shuffled"],"scale":{"paddingInner":0,"paddingOuter":0.303}},
      "y":{"field":"m","type":"quantitative","title":"Coherence prelimbic LFP -hippocampal spikes","scale":{"domain":[0,0.25],"nice":false},"axis":{"values":[0,0.05,0.1,0.15,0.2,0.25],"format":"~g","labelPadding":3,"title":"Coherence prelimbic LFP -hippocampal spikes","titleFontSize":15.5,"titlePadding":11,"titleY":148}},
      "color":{"field":"grp","type":"nominal","scale":{"domain":["control","control shuffled"],"range":["#000000","#999999"]},"legend":{"orient":"none","legendX":-62,"legendY":317,"direction":"horizontal","title":null,"symbolType":"M-1.3,-1H1.3V1H-1.3Z","symbolSize":289,"symbolStrokeColor":"#000","symbolStrokeWidth":1.5,"labelOffset":9.5,"columnPadding":20,"labelFontSize":15.5}}}},
    {"mark":{"type":"rule","strokeWidth":2,"color":"#000"},"encoding":{"xOffset":{"field":"grp","type":"nominal","sort":["control","control shuffled"]},"y":{"field":"m","type":"quantitative","title":"Coherence prelimbic LFP -hippocampal spikes"},"y2":{"field":"hi"}}},
    {"mark":{"type":"tick","thickness":2,"size":9,"color":"#000"},"encoding":{"xOffset":{"field":"grp","type":"nominal","sort":["control","control shuffled"]},"y":{"field":"hi","type":"quantitative","title":"Coherence prelimbic LFP -hippocampal spikes"}}},
    {"data":{"name":"sig"},"mark":{"type":"tick","thickness":2,"size":27,"color":"#000"},"encoding":{"y":{"field":"y","type":"quantitative","title":"Coherence prelimbic LFP -hippocampal spikes"}}},
    {"data":{"name":"sig"},"mark":{"type":"text","text":"***","baseline":"top","fontSize":15,"color":"#000"},"encoding":{"y":{"field":"ty","type":"quantitative","title":"Coherence prelimbic LFP -hippocampal spikes"}}}
   ]}
 ],
 "spacing":23,
 "resolve":{"scale":{"color":"independent","strokeDash":"independent"}}},
 {"hconcat":[
  {"width":191,"height":128,
   "title":{"text":"C","dx":-60,"dy":13},
   "data":{"name":"coh"},
   "transform":[{"filter":"datum.g==='control' || datum.g==='dual-hit GE'"}],
   "encoding":{
    "x":{"field":"f","type":"quantitative","title":"Frequency (Hz)","scale":{"domain":[0,50],"nice":false,"zero":false},"axis":{"values":[0,5,10,15,20,25,30,35,40,45,50],"labelExpr":"datum.value % 10 === 0 && datum.value > 0 ? datum.label : ''","labelPadding":14,"title":"Frequency (Hz)","titleFontSize":15.5,"titlePadding":4.5}},
    "y":{"field":"m","type":"quantitative","title":"Coherence HP-PL","scale":{"domain":[0,0.3],"nice":false},"axis":{"values":[0,0.1,0.2,0.3],"format":"~g","labelPadding":4,"title":"Coherence HP-PL","titlePadding":11}}
   },
   "layer":[
    {"transform":[{"filter":"datum.s==='control'"}],"mark":{"type":"area","color":"#6a6a6a","opacity":0.9},"encoding":{"y":{"field":"lo","type":"quantitative","title":"Coherence HP-PL"},"y2":{"field":"hi"}}},
    {"transform":[{"filter":"datum.s==='dual-hit GE'"}],"mark":{"type":"area","color":"#f4a4dc","opacity":0.8},"encoding":{"y":{"field":"lo","type":"quantitative","title":"Coherence HP-PL"},"y2":{"field":"hi"}}},
    {"mark":{"type":"line","strokeWidth":2},"encoding":{
     "color":{"field":"s","type":"nominal","scale":{"domain":["control","dual-hit GE","control shuffled","dual-hit GE shuffled"],"range":["#000000","#e5198f","#000000","#e5198f"]},"legend":{"orient":"none","legendX":50,"legendY":-12,"title":null,"values":["control","dual-hit GE"],"symbolType":"stroke","symbolSize":484,"symbolStrokeWidth":2,"rowPadding":-2,"labelOffset":6,"labelFontSize":15}},
     "strokeDash":{"field":"s","type":"nominal","scale":{"domain":["control","dual-hit GE","control shuffled","dual-hit GE shuffled"],"range":[[1,0],[1,0],[3,2],[3,2]]},"legend":null}}}
   ]},
  {"vconcat":[
   {"width":134,"height":18,"data":{"values":[]},"mark":"point"},
   {"hconcat":[
    {"width":134,"height":142,
     "title":{"text":"D","dx":-82,"dy":28},
     "data":{"name":"pct"},
     "transform":[{"filter":"datum.panel==='D'"}],
     "encoding":{"x":{"field":"band","type":"nominal","sort":["3-8","8-14","14-30"],"title":"Hz","scale":{"paddingInner":0,"paddingOuter":0},"axis":{"orient":"top","title":"Hz","titleFontSize":15.5,"titlePadding":8,"labelAngle":0,"tickBand":"extent","tickSize":-5,"labelPadding":10}}},
     "layer":[
      {"mark":{"type":"bar","color":"#000","width":{"band":0.6}},"encoding":{"y":{"field":"m","type":"quantitative","title":["Change of","coherence HP-PL (%)"],"scale":{"domain":[-80,0],"nice":false},"axis":{"values":[-80,-60,-40,-20,0],"labelPadding":1,"title":["Change of","coherence HP-PL (%)"],"titleFontSize":15.5,"titleLineHeight":15,"titlePadding":11}}}},
      {"mark":{"type":"rule","strokeWidth":2,"color":"#000"},"encoding":{"y":{"field":"m","type":"quantitative"},"y2":{"field":"lo"}}},
      {"mark":{"type":"tick","thickness":2,"size":10,"color":"#000"},"encoding":{"y":{"field":"lo","type":"quantitative"}}},
      {"transform":[{"filter":"isValid(datum.sy)"}],"mark":{"type":"text","text":"*","baseline":"top","fontSize":14,"color":"#000"},"encoding":{"y":{"field":"sy","type":"quantitative"}}}
     ]},
    {"width":155,"height":142,
     "title":{"text":"E","dx":-100,"dy":28},
     "data":{"name":"pct"},
     "transform":[{"filter":"datum.panel==='E'"}],
     "encoding":{"x":{"field":"band","type":"nominal","sort":["3-8","8-14","14-30"],"title":"Hz","scale":{"paddingInner":0,"paddingOuter":0},"axis":{"orient":"top","title":"Hz","titleFontSize":15.5,"titlePadding":8,"labelAngle":0,"tickBand":"extent","tickSize":-5,"labelPadding":10}}},
     "layer":[
      {"mark":{"type":"bar","color":"#000","width":{"band":0.445}},"encoding":{"y":{"field":"m","type":"quantitative","title":["Change of  coherence","prelimbic LFP-","hippocampal spikes (%)"],"scale":{"domain":[-12,0],"nice":false},"axis":{"values":[-12,-10,-8,-6,-4,-2,0],"labelExpr":"datum.value % 4 === 0 ? datum.label : ''","labelPadding":6,"title":["Change of  coherence","prelimbic LFP-","hippocampal spikes (%)"],"titleFontSize":15.5,"titleLineHeight":18,"titlePadding":11}}}},
      {"mark":{"type":"rule","strokeWidth":2,"color":"#000"},"encoding":{"y":{"field":"m","type":"quantitative"},"y2":{"field":"lo"}}},
      {"mark":{"type":"tick","thickness":2,"size":8,"color":"#000"},"encoding":{"y":{"field":"lo","type":"quantitative"}}},
      {"transform":[{"filter":"isValid(datum.sy)"}],"mark":{"type":"text","text":"*","baseline":"top","fontSize":14,"color":"#000"},"encoding":{"y":{"field":"sy","type":"quantitative"}}}
     ]}
   ],
   "spacing":20,
   "resolve":{"scale":{"color":"independent","strokeDash":"independent"}}}
  ],
  "bounds":"flush","spacing":0,
  "resolve":{"scale":{"color":"independent","strokeDash":"independent"}}}
 ],
 "spacing":25,
 "resolve":{"scale":{"color":"independent","strokeDash":"independent"}}}
],
"spacing":23.5,
"resolve":{"scale":{"color":"independent","strokeDash":"independent"}}
}
